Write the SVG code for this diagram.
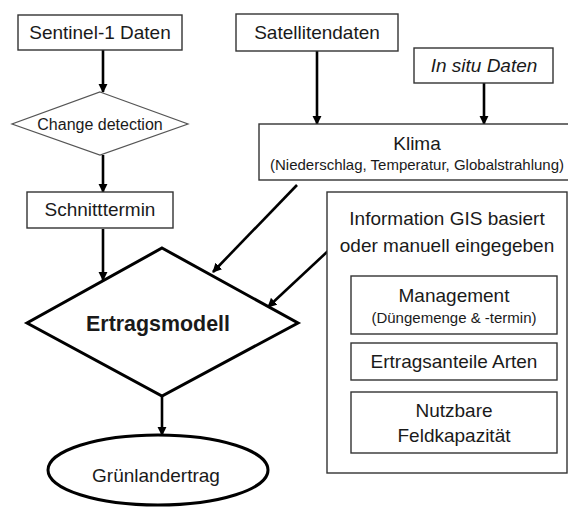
<svg xmlns="http://www.w3.org/2000/svg" width="568" height="507" viewBox="0 0 568 507">
<style>
  .box{fill:#fff;stroke:#333;stroke-width:1.4}
  .t{font-family:"Liberation Sans",Arial,sans-serif;font-size:19px;fill:#1a1a1a;text-anchor:middle}
  .s{font-size:15px}
  .c{stroke:#000;stroke-width:2.6;fill:none;marker-end:url(#ah)}
</style>
<defs>
  <marker id="ah" viewBox="0 0 10 10" refX="9" refY="5" markerWidth="3.6" markerHeight="3.6" orient="auto" markerUnits="strokeWidth">
    <path d="M0,0 L10,5 L0,10 z" fill="#000"/>
  </marker>
</defs>
<rect width="568" height="507" fill="#fff"/>
<g id="connectors">
  <line class="c" x1="103" y1="50" x2="103" y2="92"/>
  <line class="c" x1="103" y1="155" x2="103" y2="192"/>
  <line class="c" x1="103" y1="229" x2="103" y2="280"/>
  <line class="c" x1="317" y1="51" x2="317" y2="124"/>
  <line class="c" x1="484" y1="83" x2="484" y2="124"/>
  <line class="c" x1="297" y1="185" x2="213" y2="272"/>
  <line class="c" x1="328" y1="251" x2="268" y2="307"/>
  <line class="c" x1="162" y1="396" x2="162" y2="435"/>
</g>
<g id="sentinel">
  <rect class="box" x="18" y="15" width="164" height="35"/>
  <text class="t" x="100" y="39">Sentinel-1 Daten</text>
</g>
<g id="change">
  <polygon points="100,92 188,124 100,155 12,124" fill="#fff" stroke="#555" stroke-width="1.2"/>
  <text class="t" x="100" y="130" style="font-size:16px">Change detection</text>
</g>
<g id="schnitt">
  <rect class="box" x="27" y="192" width="146" height="36"/>
  <text class="t" x="100" y="216">Schnitttermin</text>
</g>
<g id="satellit">
  <rect class="box" x="236" y="14" width="162" height="37"/>
  <text class="t" x="317" y="39">Satellitendaten</text>
</g>
<g id="insitu">
  <rect class="box" x="414" y="48" width="139" height="35"/>
  <text class="t" x="484" y="72" font-style="italic">In situ Daten</text>
</g>
<g id="klima">
  <rect class="box" x="259" y="124" width="320" height="56"/>
  <text class="t" x="417" y="150">Klima</text>
  <text class="t s" x="417" y="170">(Niederschlag, Temperatur, Globalstrahlung)</text>
</g>
<g id="info">
  <rect class="box" x="327" y="192" width="240" height="281" stroke="#444" stroke-width="1.6"/>
  <text class="t" x="447" y="225">Information GIS basiert</text>
  <text class="t" x="447" y="252">oder manuell eingegeben</text>
</g>
<g id="management">
  <rect class="box" x="351" y="276" width="206" height="58"/>
  <text class="t" x="454" y="302">Management</text>
  <text class="t s" x="454" y="323">(Düngemenge &amp; -termin)</text>
</g>
<g id="ertragsanteile">
  <rect class="box" x="351" y="343" width="206" height="37"/>
  <text class="t" x="454" y="368">Ertragsanteile Arten</text>
</g>
<g id="nutzbare">
  <rect class="box" x="351" y="392" width="206" height="61"/>
  <text class="t" x="454" y="417">Nutzbare</text>
  <text class="t" x="454" y="442">Feldkapazität</text>
</g>
<g id="ertragsmodell">
  <polygon points="162,248 298,323 162,396 27,323" fill="#fff" stroke="#000" stroke-width="3"/>
  <text class="t" x="158" y="331" font-weight="bold" style="font-size:21.4px">Ertragsmodell</text>
</g>
<g id="gruenland">
  <ellipse cx="158" cy="470" rx="110" ry="35" fill="#fff" stroke="#000" stroke-width="3"/>
  <text class="t" x="156" y="482">Grünlandertrag</text>
</g>
</svg>
